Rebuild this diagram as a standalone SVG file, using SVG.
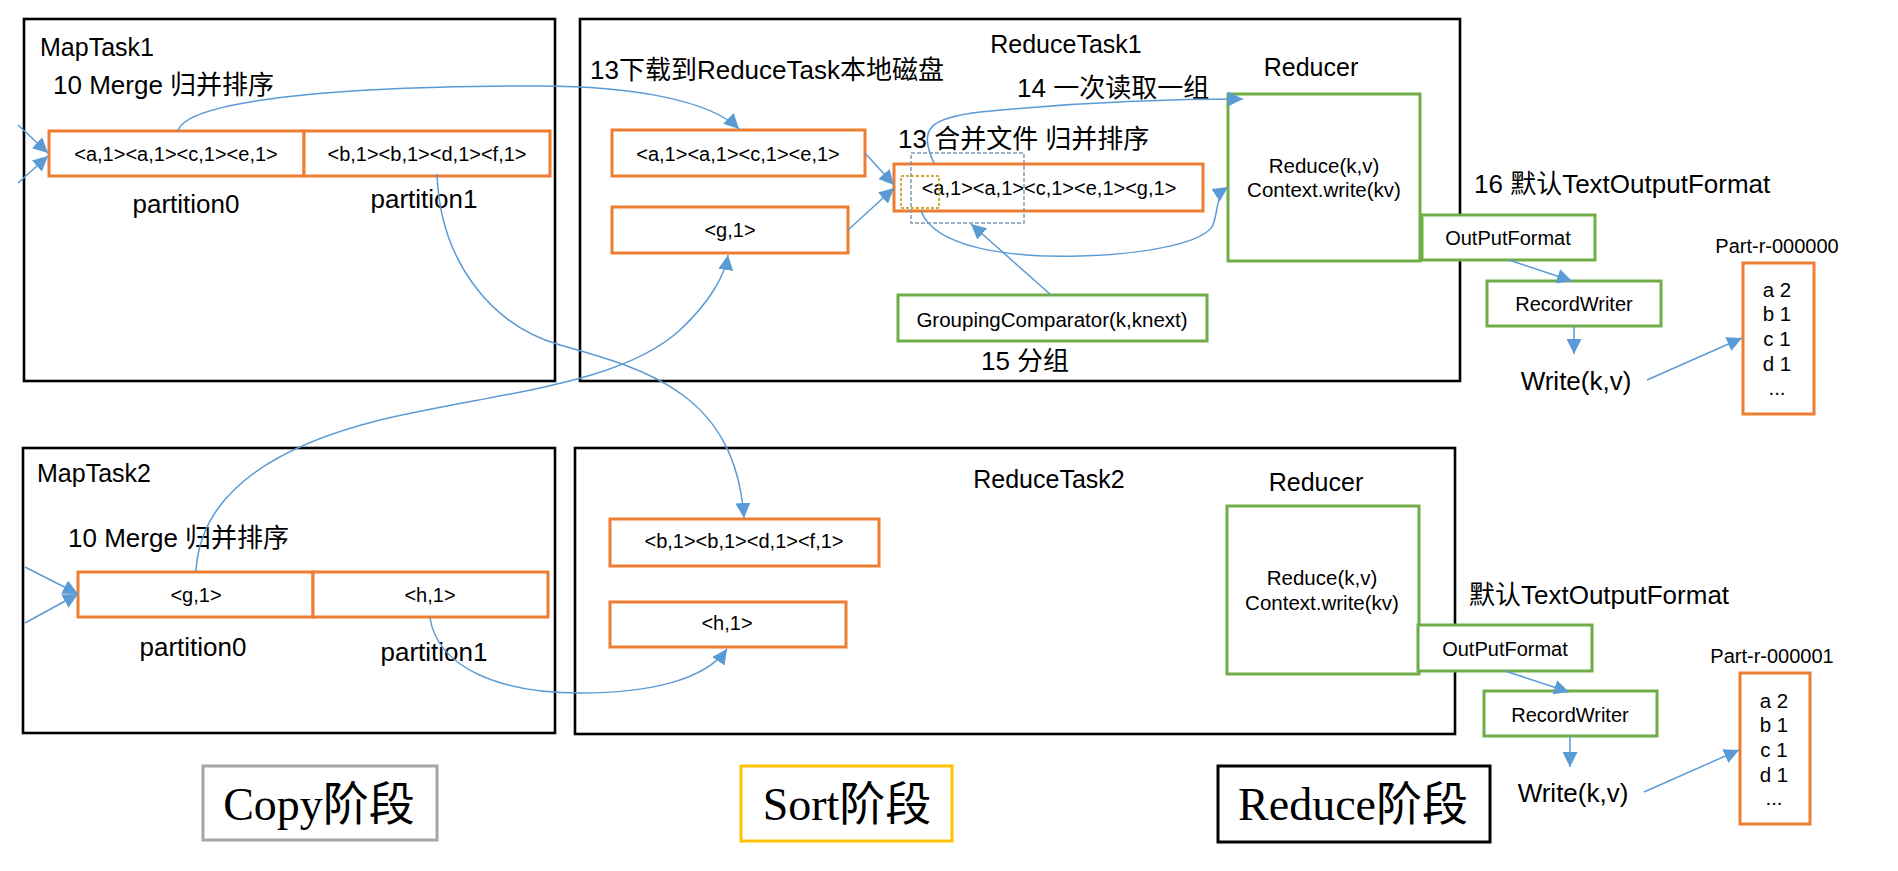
<svg xmlns="http://www.w3.org/2000/svg" width="1898" height="871" viewBox="0 0 1898 871">
<style>
text{font-family:"Liberation Sans","Noto Sans CJK SC",sans-serif;fill:#000}
.big{fill:#fff;stroke:#000;stroke-width:2.6}
.org{fill:#fff;stroke:#ED7D31;stroke-width:3}
.grn{fill:#fff;stroke:#70AD47;stroke-width:3}
.t25{font-size:25px}
.t26{font-size:26px}
.t20{font-size:20px}
.mid{text-anchor:middle}
.ph{font-family:"Liberation Serif","Noto Sans CJK SC",serif;font-size:46px}
.con{fill:none;stroke:#5B9BD5;stroke-width:1.5;marker-end:url(#ah)}
</style>
<defs>
<marker id="ah" viewBox="0 0 15 15" refX="15" refY="7.5" markerWidth="15" markerHeight="15" markerUnits="userSpaceOnUse" orient="auto"><path d="M0,0 L15,7.5 L0,15 z" fill="#5B9BD5"/></marker>
</defs>
<rect width="1898" height="871" fill="#fff"/>

<g id="maptask1">
<rect class="big" x="24" y="19" width="531" height="362"/>
<text class="t25" x="40" y="56">MapTask1</text>
<text class="t26" x="53" y="94">10 Merge 归并排序</text>
<rect class="org" x="49" y="131" width="255" height="45"/>
<rect class="org" x="304" y="131" width="246" height="45"/>
<text class="t20 mid" x="176" y="161">&lt;a,1&gt;&lt;a,1&gt;&lt;c,1&gt;&lt;e,1&gt;</text>
<text class="t20 mid" x="427" y="161">&lt;b,1&gt;&lt;b,1&gt;&lt;d,1&gt;&lt;f,1&gt;</text>
<text class="t26 mid" x="186" y="213">partition0</text>
<text class="t26 mid" x="424" y="208">partition1</text>
</g>

<g id="maptask2">
<rect class="big" x="23" y="448" width="532" height="285"/>
<text class="t25" x="37" y="482">MapTask2</text>
<text class="t26" x="68" y="547">10 Merge 归并排序</text>
<rect class="org" x="78" y="572" width="235" height="45"/>
<rect class="org" x="313" y="572" width="235" height="45"/>
<text class="t20 mid" x="196" y="602">&lt;g,1&gt;</text>
<text class="t20 mid" x="430" y="602">&lt;h,1&gt;</text>
<text class="t26 mid" x="193" y="656">partition0</text>
<text class="t26 mid" x="434" y="661">partition1</text>
</g>

<g id="reducetask1">
<rect class="big" x="580" y="19" width="880" height="362"/>
<text class="t25 mid" x="1066" y="53">ReduceTask1</text>
<text class="t26" x="590" y="79">13下载到ReduceTask本地磁盘</text>
<text class="t26" x="1017" y="97">14 一次读取一组</text>
<text class="t26" x="898" y="148">13 合并文件 归并排序</text>
<text class="t26 mid" x="1025" y="370">15 分组</text>
</g>

<g id="rt1-box1">
<rect class="org" x="612" y="130" width="253" height="46"/>
<text class="t20 mid" x="738" y="161">&lt;a,1&gt;&lt;a,1&gt;&lt;c,1&gt;&lt;e,1&gt;</text>
</g>
<g id="rt1-box2">
<rect class="org" x="612" y="207" width="236" height="46"/>
<text class="t20 mid" x="730" y="237">&lt;g,1&gt;</text>
</g>
<g id="rt1-merged">
<rect class="org" x="894" y="164" width="309" height="47"/>
<text class="t20 mid" x="1049" y="195">&lt;a,1&gt;&lt;a,1&gt;&lt;c,1&gt;&lt;e,1&gt;&lt;g,1&gt;</text>
<rect x="911" y="153" width="113" height="70" fill="none" stroke="#8497B0" stroke-width="1.5" stroke-dasharray="4 2"/>
<rect x="901" y="176" width="38" height="32" fill="none" stroke="#BF9000" stroke-width="1.5" stroke-dasharray="3 2"/>
</g>
<g id="grouping">
<rect class="grn" x="898" y="295" width="309" height="46"/>
<text class="mid" x="1052" y="327" style="font-size:20.5px">GroupingComparator(k,knext)</text>
</g>

<g id="reducer1">
<text class="t25 mid" x="1311" y="76">Reducer</text>
<rect class="grn" x="1228" y="94" width="192" height="167"/>
<text class="mid" x="1324" y="173" style="font-size:20.5px">Reduce(k,v)</text>
<text class="mid" x="1324" y="197" style="font-size:20.5px">Context.write(kv)</text>
</g>
<g id="outputformat1">
<rect class="grn" x="1422" y="215" width="173" height="45"/>
<text class="t20 mid" x="1508" y="245">OutPutFormat</text>
<text class="t26" x="1474" y="193">16 默认TextOutputFormat</text>
</g>
<g id="recordwriter1">
<rect class="grn" x="1487" y="281" width="174" height="45"/>
<text class="t20 mid" x="1574" y="311">RecordWriter</text>
</g>
<g id="write1">
<text class="t26 mid" x="1576" y="390">Write(k,v)</text>
</g>
<g id="part1">
<text class="t20 mid" x="1777" y="253">Part-r-000000</text>
<rect class="org" x="1743" y="263" width="71" height="151"/>
<text class="mid" x="1777" y="297" style="font-size:20.5px">a 2</text>
<text class="mid" x="1777" y="321" style="font-size:20.5px">b 1</text>
<text class="mid" x="1777" y="346" style="font-size:20.5px">c 1</text>
<text class="mid" x="1777" y="371" style="font-size:20.5px">d 1</text>
<text class="mid" x="1777" y="395" style="font-size:20.5px">...</text>
</g>

<g id="reducetask2">
<rect class="big" x="575" y="448" width="880" height="286"/>
<text class="t25 mid" x="1049" y="488">ReduceTask2</text>
</g>
<g id="rt2-box1">
<rect class="org" x="610" y="519" width="269" height="47"/>
<text class="t20 mid" x="744" y="548">&lt;b,1&gt;&lt;b,1&gt;&lt;d,1&gt;&lt;f,1&gt;</text>
</g>
<g id="rt2-box2">
<rect class="org" x="610" y="602" width="236" height="45"/>
<text class="t20 mid" x="727" y="630">&lt;h,1&gt;</text>
</g>
<g id="reducer2">
<text class="t25 mid" x="1316" y="491">Reducer</text>
<rect class="grn" x="1227" y="506" width="192" height="168"/>
<text class="mid" x="1322" y="585" style="font-size:20.5px">Reduce(k,v)</text>
<text class="mid" x="1322" y="610" style="font-size:20.5px">Context.write(kv)</text>
</g>
<g id="outputformat2">
<rect class="grn" x="1418" y="625" width="174" height="46"/>
<text class="t20 mid" x="1505" y="656">OutPutFormat</text>
<text class="t26" x="1469" y="604">默认TextOutputFormat</text>
</g>
<g id="recordwriter2">
<rect class="grn" x="1484" y="691" width="173" height="45"/>
<text class="t20 mid" x="1570" y="722">RecordWriter</text>
</g>
<g id="write2">
<text class="t26 mid" x="1573" y="802">Write(k,v)</text>
</g>
<g id="part2">
<text class="t20 mid" x="1772" y="663">Part-r-000001</text>
<rect class="org" x="1740" y="673" width="70" height="151"/>
<text class="mid" x="1774" y="708" style="font-size:20.5px">a 2</text>
<text class="mid" x="1774" y="732" style="font-size:20.5px">b 1</text>
<text class="mid" x="1774" y="757" style="font-size:20.5px">c 1</text>
<text class="mid" x="1774" y="782" style="font-size:20.5px">d 1</text>
<text class="mid" x="1774" y="805" style="font-size:20.5px">...</text>
</g>

<g id="phase-copy">
<rect x="203" y="766" width="234" height="74" fill="#fff" stroke="#A6A6A6" stroke-width="3"/>
<text class="ph mid" x="319" y="820">Copy阶段</text>
</g>
<g id="phase-sort">
<rect x="741" y="766" width="211" height="75" fill="#fff" stroke="#FFC000" stroke-width="3"/>
<text class="ph mid" x="847" y="820">Sort阶段</text>
</g>
<g id="phase-reduce">
<rect x="1218" y="766" width="272" height="76" fill="#fff" stroke="#000" stroke-width="3"/>
<text class="ph mid" x="1353" y="820">Reduce阶段</text>
</g>

<g id="connectors">
<path class="con" d="M18,125 L48,153"/>
<path class="con" d="M18,183 L48,156"/>
<path class="con" d="M25,567 L78,594"/>
<path class="con" d="M25,623 L78,594"/>
<path class="con" d="M178,131 C185,105 300,86 540,86 C630,86 710,100 739,129"/>
<path class="con" d="M437,174 C440,260 490,325 560,345 C650,370 735,395 744,518"/>
<path class="con" d="M196,571 C200,500 260,450 380,420 C500,392 620,385 680,330 C710,302 725,275 728,255"/>
<path class="con" d="M430,618 C438,668 500,693 580,693 C650,693 705,680 727,649"/>
<path class="con" d="M865,153 L894,185"/>
<path class="con" d="M848,230 L894,188"/>
<path class="con" d="M1051,295 L971,224"/>
<path class="con" d="M934,163 C918,128 930,118 980,112 C1060,104 1150,99 1243,99"/>
<path class="con" d="M921,211 C935,248 1010,258 1080,256 C1150,254 1205,242 1213,225 C1218,212 1216,195 1228,187"/>
<path class="con" d="M1509,260 L1572,281"/>
<path class="con" d="M1574,326 L1574,354"/>
<path class="con" d="M1647,380 L1742,338"/>
<path class="con" d="M1505,671 L1569,692"/>
<path class="con" d="M1570,736 L1570,767"/>
<path class="con" d="M1644,792 L1739,750"/>
</g>
</svg>
